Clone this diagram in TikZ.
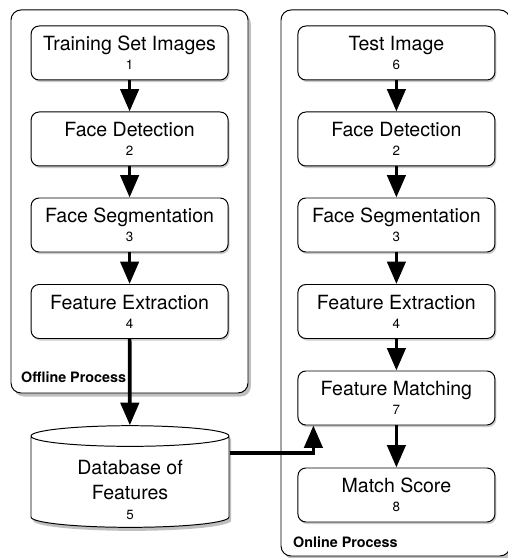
\documentclass[tikz,border=0pt]{standalone}
\usepackage{fontspec}
\setmainfont{TeX Gyre Heros}
\usetikzlibrary{arrows.meta,shapes.geometric,shadows}

\newcommand{\stepno}[1]{{\fontsize{9.5}{10}\selectfont #1}}

\begin{document}
\begin{tikzpicture}[line width=0.7pt]
                \tikzstyle{every node}=[font=\fontsize{13.9}{13.5}\selectfont]
                \tikzstyle{stage}=[draw, fill=white, rounded corners=0.2cm, minimum width=4.925cm, minimum height=1.35cm, align=center, drop shadow={shadow xshift=1pt, shadow yshift=-1.5pt, opacity=0.4}]
                \tikzstyle{frame}=[draw, fill=white, rounded corners=0.25cm, drop shadow={shadow xshift=2pt, shadow yshift=-2.5pt, opacity=0.5}]
                \tikzstyle{flow}=[line width=2.6pt, -{Triangle[length=16pt,width=13pt]}]
                \useasboundingbox (0,0) rectangle (12.675,13.95);
                % process frames
                \draw[frame] (0.275,13.7) rectangle (6.2,4.125);
                \draw[frame] (7.025,13.7) rectangle (12.75,0.05);
                \node[anchor=base west, font=\bfseries\fontsize{10.2}{12}\selectfont] (off) at (0.4,4.375) {Offline Process};
                \node[anchor=base west, font=\bfseries\fontsize{10.2}{12}\selectfont] (on) at (7.2,0.275) {Online Process};
                % offline stages
                \node[stage] (ts) at (3.24, 12.625) {Training Set Images\\\stepno{1}};
                \node[stage] (fd1) at (3.24, 10.475) {Face Detection\\\stepno{2}};
                \node[stage] (fs1) at (3.24, 8.325) {Face Segmentation\\\stepno{3}};
                \node[stage] (fe1) at (3.24, 6.1625) {Feature Extraction\\\stepno{4}};
                % online stages
                \node[stage] (ti) at (9.91, 12.625) {Test Image\\\stepno{6}};
                \node[stage] (fd2) at (9.91, 10.475) {Face Detection\\\stepno{2}};
                \node[stage] (fs2) at (9.91, 8.325) {Face Segmentation\\\stepno{3}};
                \node[stage] (fe2) at (9.91, 6.1625) {Feature Extraction\\\stepno{4}};
                \node[stage] (fm) at (9.91, 4.0) {Feature Matching\\\stepno{7}};
                \node[stage] (ms) at (9.91, 1.575) {Match Score\\\stepno{8}};
                % database
                \node[draw, fill=white, cylinder, shape border rotate=90, aspect=0.18, inner ysep=0pt, minimum width=4.95cm, minimum height=2.4cm, align=center, drop shadow={shadow xshift=1.5pt, shadow yshift=-2.5pt, opacity=0.5}] (db) at (3.25, 1.8625) {\rule{0pt}{20pt}Database of\\[4pt]Features\\[1pt]\stepno{5}};

            \draw[flow] (ts) -- (fd1);
            \draw[flow] (fd1) -- (fs1);
            \draw[flow] (fs1) -- (fe1);
            \draw[flow] (fe1) -- (db);
            \draw[flow] (ti) -- (fd2);
            \draw[flow] (fd2) -- (fs2);
            \draw[flow] (fs2) -- (fe2);
            \draw[flow] (fe2) -- (fm);
            \draw[flow] (fm) -- (ms);
            \draw[flow] ([yshift=0.76cm]db.east) -| ([xshift=0.4cm]fm.south west);
          \end{tikzpicture}
\end{document}
